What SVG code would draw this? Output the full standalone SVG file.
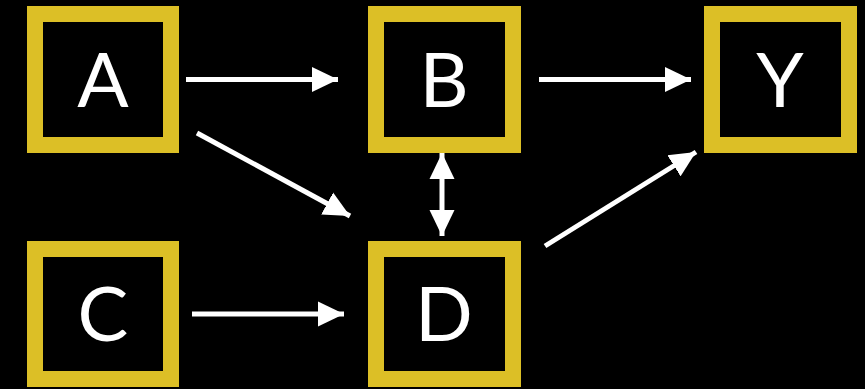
<svg xmlns="http://www.w3.org/2000/svg" width="865" height="389" viewBox="0 0 865 389">
<style>
.box{fill:#000;stroke:#dcbf26;stroke-width:16}
.lbl{fill:#fff;font-family:Lato,"Open Sans","Liberation Sans",sans-serif;font-size:76px;text-anchor:middle}
.edge{stroke:#fff;stroke-width:5;fill:none;marker-end:url(#ah)}
</style>
<defs>
<marker id="ah" viewBox="0 0 26 26" refX="26" refY="13" markerWidth="26" markerHeight="26" markerUnits="userSpaceOnUse" orient="auto-start-reverse">
<path d="M0,0.5 L26,13 L0,25.5 Z" fill="#fff"/>
</marker>
</defs>
<rect width="865" height="389" fill="#000"/>
<g id="A"><rect class="box" x="35" y="14" width="136" height="131"/><text class="lbl" x="103" y="107">A</text></g>
<g id="B"><rect class="box" x="376" y="14" width="137" height="131"/><text class="lbl" x="444" y="107">B</text></g>
<g id="Y"><rect class="box" x="712" y="14" width="137" height="131"/><text class="lbl" x="780" y="107">Y</text></g>
<g id="C"><rect class="box" x="35" y="249" width="136" height="130"/><text class="lbl" x="103" y="341">C</text></g>
<g id="D"><rect class="box" x="376" y="249" width="137" height="130"/><text class="lbl" x="444" y="341">D</text></g>
<g id="connectors">
<line class="edge" x1="186" y1="79.5" x2="338" y2="79.5"/>
<line class="edge" x1="539" y1="79.5" x2="691" y2="79.5"/>
<line class="edge" x1="197" y1="133" x2="350" y2="216"/>
<line class="edge" x1="192" y1="314" x2="344" y2="314"/>
<line class="edge" x1="545" y1="246" x2="696" y2="152"/>
<line class="edge" x1="442" y1="153" x2="442" y2="236" style="marker-start:url(#ah)"/>
</g>
</svg>
